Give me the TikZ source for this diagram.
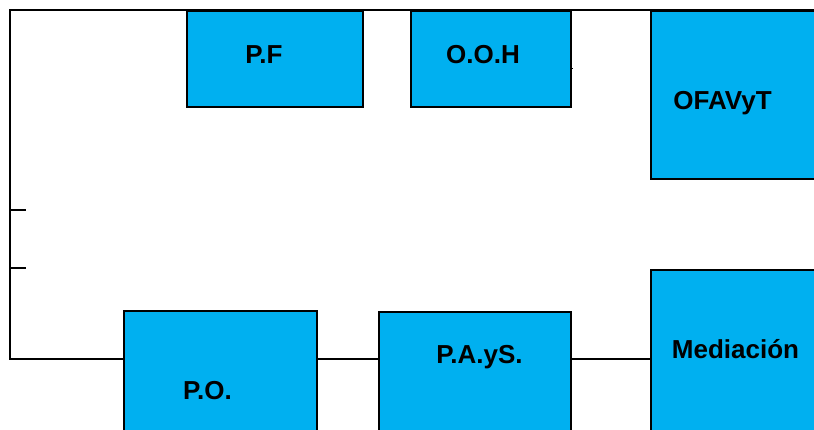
\documentclass[tikz,border=0pt]{standalone}
\usepackage{fontspec}
\setmainfont{Liberation Sans}
\definecolor{boxblue}{HTML}{00B0F0}
\begin{document}
\begin{tikzpicture}[x=1pt,y=-1pt,
  box/.style={draw=black, line width=2pt, fill=boxblue, inner sep=0pt, anchor=north west},
  lbl/.style={font=\fontsize{26}{30}\selectfont\bfseries, anchor=base, inner sep=0pt},
  wire/.style={draw=black, line width=1.6pt}]
\useasboundingbox (0,0) rectangle (814,429);
\clip (0,0) rectangle (814,429);
% frame lines
\coordinate (tl) at (10,10);
\coordinate (tr) at (820,10);
\coordinate (bl) at (10,359);
\coordinate (t1a) at (10,210);
\coordinate (t1b) at (26,210);
\coordinate (t2a) at (10,268);
\coordinate (t2b) at (26,268);
% boxes
\node[box, minimum width=176pt, minimum height=96pt] (pf) at (186,10) {};
\node[box, minimum width=160pt, minimum height=96pt] (ooh) at (410,10) {};
\node[box, minimum width=190pt, minimum height=168pt] (ofa) at (650,10) {};
\node[box, minimum width=190pt, minimum height=190pt] (med) at (650,269) {};
\node[box, minimum width=193pt, minimum height=140pt] (po) at (123,310) {};
\node[box, minimum width=192pt, minimum height=140pt] (pays) at (378,311) {};
% connectors
\draw[wire] (tr) -- (tl) -- (bl) -- (po.west |- bl);
\draw[wire] (po.east |- bl) -- (pays.west |- bl);
\draw[wire] (pays.east |- bl) -- (med.west |- bl);
\draw[wire] (t1a) -- (t1b);
\draw[wire] (t2a) -- (t2b);
\coordinate (stub) at (573,68);
\draw[line width=1pt] (ooh.east |- stub) -- (stub);
% labels
\node[lbl] (tpf) at (264,63) {P.F};
\node[lbl] (tooh) at (483,63) {O.O.H};
\node[lbl] (tofa) at (722.5,109) {OFAVyT};
\node[lbl] (tpays) at (479.5,363) {P.A.yS.};
\node[lbl] (tmed) at (735.5,358) {Mediación};
\node[lbl] (tpo) at (207.5,399) {P.O.};
\end{tikzpicture}
\end{document}
